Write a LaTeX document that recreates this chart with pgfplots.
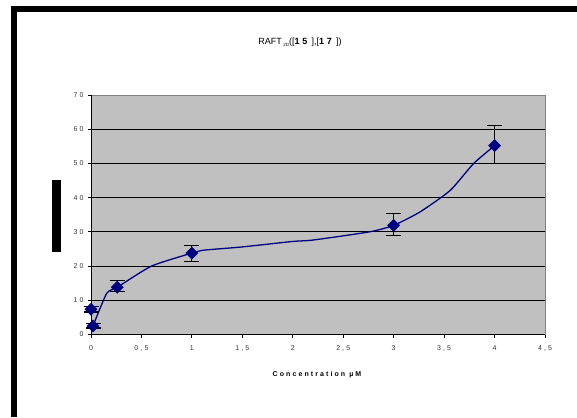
\documentclass[border=0pt]{standalone}
\usepackage{pgfplots}
\pgfplotsset{compat=1.18}
\usepackage{fontspec}
\setmainfont{Liberation Sans}
\newfontfamily\spfont[LetterSpace=30]{Liberation Sans}
\definecolor{plotgray}{RGB}{192,192,192}
\definecolor{edgegray}{RGB}{128,128,128}
\definecolor{navyblue}{RGB}{0,0,128}
\begin{document}
\begin{tikzpicture}[x=1pt,y=1pt]
\path[use as bounding box] (0pt,0pt) rectangle (577pt,417pt);
\fill[black] (11pt,0pt) rectangle (16.5pt,410.5pt);
\fill[black] (11pt,405pt) rectangle (577pt,410.5pt);
\fill[black] (52pt,165pt) rectangle (61pt,237pt);
\node[font=\fontsize{9}{10}\selectfont, anchor=center] at (300pt,375pt)
  {RAFT\,\raisebox{-2pt}{\fontsize{4.5}{5}\selectfont 2D}([\textbf{\spfont 15}\,],[\textbf{\spfont 17}\,])};
\begin{axis}[
  at={(91pt,82.5pt)}, anchor=south west,
  scale only axis, width=454pt, height=239.5pt,
  xmin=0, xmax=4.5, ymin=0, ymax=70,
  xtick={0,0.5,...,4.5},
  xticklabels={0,{0,5},1,{1,5},2,{2,5},3,{3,5},4,{4,5}},
  ytick={0,10,...,70},
  axis background/.style={fill=plotgray},
  axis line style={edgegray, line width=1pt},
  ymajorgrids, grid style={black, line width=0.8pt},
  tick align=outside, major tick length=3pt,
  tick style={black, line width=0.8pt},
  xtick pos=bottom, ytick pos=left,
  tick label style={font=\spfont\fontsize{7}{8}\selectfont, text=black!80},
  yticklabel style={xshift=-1pt},
  xticklabel style={yshift=-5pt},
  /pgf/number format/assume math mode=true,
  xlabel={\textbf{Concentration µM}},
  xlabel style={font=\spfont\fontsize{7}{8}\selectfont, at={(rel axis cs:0.5,0)}, anchor=north, yshift=-33pt},
  clip=false,
  after end axis/.code={
    \draw[black, line width=1pt] (rel axis cs:0,1) -- (rel axis cs:0,0) -- (rel axis cs:1,0);
  },
]
\addplot[navyblue, line width=1.3pt, smooth, tension=0.35, mark=none] coordinates {
  (0.02,2.5) (0.155,12.0) (0.26,13.8) (0.6,20.0) (1.0,23.8) (1.1,24.6)
  (1.5,25.6) (2.0,27.2) (2.2,27.6) (2.76,30.0) (3.0,31.9) (3.26,35.8)
  (3.56,42.1) (3.79,49.9) (4.0,55.2)
};
\addplot[only marks, mark=square*, mark size=4.3pt, color=navyblue,
  mark options={rotate=45, fill=navyblue, draw=navyblue},
  error bars/.cd, y dir=both, y explicit,
  error bar style={black, line width=1.2pt},
  error mark options={rotate=90, mark size=7.5pt, black, line width=1.2pt}]
coordinates {
  (0,7.4) += (0,0.8) -= (0,0.8)
  (0.02,2.5) += (0,0.6) -= (0,0.6)
  (0.26,13.8) += (0,1.9) -= (0,1.3)
  (1.0,23.8) += (0,2.3) -= (0,2.4)
  (3.0,31.9) += (0,3.4) -= (0,3.0)
  (4.0,55.2) += (0,5.9) -= (0,5.3)
};
\end{axis}
\end{tikzpicture}
\end{document}
